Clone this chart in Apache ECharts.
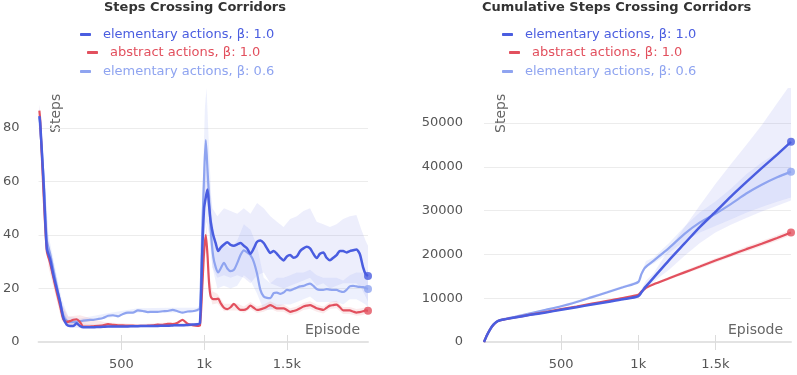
<!DOCTYPE html>
<html>
<head>
<meta charset="utf-8">
<script src="https://cdn.jsdelivr.net/npm/echarts@6/dist/echarts.min.js"></script>
<title>Steps Crossing Corridors</title>
<style>
  body { margin: 0; background: #fff; }
  .box { position: absolute; top: 0; height: 375px; }
</style>
</head>
<body>
<div id="left" class="box" style="left:0;width:399px;"></div>
<div id="right" class="box" style="left:399px;width:398px;"></div>
<script>
// series names
var NAME_E10 = 'elementary actions, β: 1.0';
var NAME_A10 = 'abstract actions, β: 1.0';
var NAME_E06 = 'elementary actions, β: 0.6';

// ---- left chart: steps per episode (smoothed mean) ----
var epSteps = [5, 10, 30, 50, 70, 90, 110, 130, 150, 170,
  190, 210, 230, 250, 270, 300, 330, 360, 390, 420,
  450, 480, 510, 540, 570, 600, 630, 660, 690, 720,
  750, 780, 810, 840, 870, 900, 930, 960, 975, 990,
  1000, 1010, 1020, 1030, 1040, 1055, 1070, 1085, 1100, 1120,
  1140, 1160, 1180, 1200, 1220, 1240, 1260, 1280, 1300, 1320,
  1340, 1360, 1380, 1400, 1420, 1440, 1460, 1480, 1500, 1520,
  1540, 1560, 1580, 1600, 1620, 1640, 1660, 1680, 1700, 1720,
  1740, 1760, 1780, 1800, 1820, 1840, 1860, 1880, 1900, 1920,
  1940, 1960, 1975, 1990];
var stepsE10 = [84.5, 82, 60, 35, 31, 25, 20, 15, 9, 6.5,
  6, 6, 7, 6, 5.5, 5.5, 5.5, 5.6, 5.7, 5.8,
  5.8, 5.8, 5.8, 5.8, 5.9, 5.9, 6, 6, 6, 6,
  6.1, 6.1, 6.2, 6.3, 6.3, 6.4, 6.5, 6.6, 7, 36,
  50, 54, 57, 51, 45, 40, 37, 34, 35.3, 36.5,
  37.3, 36.3, 36, 36.5, 37, 36, 35, 33, 35, 37.5,
  38, 37, 35, 33.3, 34, 33, 31.5, 30.5, 32, 32.5,
  31.5, 32, 34, 35, 35.6, 35, 33, 31.4, 33, 33.5,
  31.5, 30.6, 31.5, 32.5, 34, 34, 33.5, 34, 34.3, 34.6,
  33, 28, 25.5, 24.7];
var stepsA10 = [86.5, 83, 56, 34, 29.5, 24, 18.5, 13.5, 8.5, 7.5,
  7.8, 8.3, 8.5, 7.5, 5.8, 5.8, 5.9, 6, 6.2, 6.7,
  6.4, 6.2, 6.2, 6.1, 6.1, 6, 6, 6.1, 6.2, 6.5,
  6.4, 6.8, 6.7, 7.2, 8.3, 6.8, 6.3, 6, 6.2, 22,
  34, 40, 33, 22, 17, 16, 16, 16.2, 14.5, 12.8,
  12.3, 13, 14.3, 13, 12, 12, 12.5, 13.6, 12.8, 12,
  12.2, 12.6, 13.2, 13.8, 13.2, 12.6, 12.6, 12.6, 12, 11.3,
  11.6, 12, 12.6, 13.3, 13.6, 13.8, 13.3, 12.6, 12.3, 12,
  12.8, 13.6, 13.8, 14, 13, 11.8, 11.8, 11.8, 11.4, 11,
  11.2, 11.5, 11.8, 11.7];
var stepsE06 = [84, 80, 62, 38, 33, 27, 21, 15, 10, 8,
  7.5, 7.5, 7.6, 7.8, 8, 8.2, 8.3, 8.6, 9, 9.8,
  10, 9.6, 10.5, 11, 11, 11.8, 11.6, 11.2, 11.3, 11.3,
  11.5, 11.6, 12, 11.5, 11, 11.4, 11.5, 12, 12.6, 44,
  62, 75.5, 65, 54, 42, 32, 28, 26, 27.5, 29.6,
  27.5, 26.5, 27, 29.5, 32.5, 34.3, 33.5, 32.5, 30, 25.5,
  19.5, 17, 16.5, 16.4, 18.3, 18.5, 18, 18.5, 19.5, 19.3,
  19.8, 20.3, 20.8, 21, 21.5, 21.8, 21, 19.8, 19.5, 19.5,
  19.8, 19.6, 19.5, 19.5, 19, 18.7, 19.5, 20.8, 21, 20.8,
  20.6, 20.5, 20.2, 19.8];

// confidence bands (left chart)
var bandEpL = [5, 30, 60, 100, 140, 180, 250, 400, 600, 800,
  960, 975, 990, 1005, 1015, 1030, 1050, 1080, 1120, 1160,
  1200, 1240, 1280, 1320, 1360, 1400, 1440, 1480, 1520, 1560,
  1600, 1640, 1680, 1720, 1760, 1800, 1840, 1880, 1920, 1950,
  1975, 1990];
var bandE10Lo = [80, 54, 30, 20, 10, 5.5, 5.2, 5.2, 5.4, 5.6,
  6, 6, 28, 42, 45, 40, 28, 24, 25, 24,
  25, 24, 22, 25, 26, 22, 21, 20, 21, 22,
  23, 24, 21, 22, 20, 21, 22, 22, 22, 20,
  17, 15];
var bandE10Hi = [89, 66, 38, 26, 15, 7.5, 7, 6.3, 6.4, 6.6,
  7.2, 8.5, 42, 64, 66, 60, 50, 47, 50, 49,
  48, 50, 48, 52, 50, 47, 45, 43, 46, 47,
  49, 50, 45, 44, 43, 44, 46, 47, 47.5, 42,
  38, 36];
var bandA10Lo = [84, 52, 28, 18, 8, 6, 6, 5.6, 5.5, 6,
  5.6, 5.8, 18, 31, 35, 19, 14, 14.5, 11.5, 11.8,
  11.8, 10.8, 12.3, 10.8, 11.3, 12.4, 11.3, 11.3, 10, 10.7,
  12, 12.4, 11.3, 10.7, 12.3, 12.6, 10.5, 10.5, 9.8, 10,
  10.5, 10.4];
var bandA10Hi = [89, 60, 35, 25, 14, 9.5, 10, 7.4, 6.6, 7.4,
  6.6, 7, 26, 38, 44, 26, 19, 18, 14.3, 14.3,
  14.4, 13.3, 15, 13.3, 14, 15.2, 14, 14, 12.6, 13.3,
  14.6, 15.2, 14, 13.3, 15, 15.4, 13.1, 13.1, 12.3, 12.6,
  13, 13];
var bandE06Lo = [80, 56, 31, 20, 11, 6.5, 7, 8.8, 11, 11,
  11.2, 11.5, 35, 55, 60, 45, 28, 20, 21, 20,
  21, 25, 23, 18, 12, 12, 13, 14, 14, 15,
  16, 17, 15, 15, 15, 15, 14, 16, 16, 15,
  14, 13];
var bandE06Hi = [88, 68, 40, 28, 16, 9.5, 8.8, 10.6, 12.6, 12.8,
  12.8, 14, 55, 88, 95, 72, 45, 35, 37, 35,
  38, 44, 42, 36, 24, 22, 24, 24, 25, 26,
  26, 27, 25, 24, 24, 24, 23, 25, 26, 26,
  26, 27];

// ---- right chart: cumulative steps ----
var epCum = [0, 20, 40, 60, 80, 100, 130, 160, 200, 300,
  400, 500, 600, 700, 800, 900, 1000, 1020, 1040, 1060,
  1100, 1200, 1300, 1400, 1500, 1600, 1700, 1800, 1900, 1990];
var cumE10 = [0, 1600, 2900, 3900, 4550, 4900, 5150, 5350, 5600, 6200,
  6750, 7350, 7950, 8550, 9150, 9750, 10450, 11300, 12300, 13100,
  14700, 18700, 22500, 26300, 29700, 33200, 36500, 39700, 42800, 45700];
var cumA10 = [0, 1600, 2900, 3900, 4550, 4900, 5150, 5350, 5600, 6250,
  6850, 7500, 8100, 8750, 9400, 10050, 10800, 11500, 12100, 12550,
  13200, 14550, 15900, 17250, 18600, 19900, 21200, 22450, 23750, 25000];
var cumE06 = [0, 1650, 2950, 3950, 4600, 4950, 5250, 5450, 5750, 6550,
  7350, 8150, 9150, 10250, 11350, 12500, 13700, 15500, 16800, 17500,
  18600, 21500, 24700, 27300, 29300, 31500, 33900, 35900, 37600, 38900];

var bandEpR = [0, 20, 40, 60, 80, 100, 130, 160, 200, 500,
  800, 1000, 1050, 1100, 1200, 1300, 1400, 1500, 1600, 1700,
  1800, 1900, 1990];
var cumBandE10Lo = [0, 1500, 2750, 3750, 4400, 4750, 5000, 5200, 5450, 7150,
  8950, 10250, 12000, 13800, 16500, 19700, 22600, 25000, 26800, 28300,
  29800, 31100, 32300];
var cumBandE10Hi = [0, 1700, 3050, 4050, 4700, 5050, 5300, 5500, 5750, 7550,
  9350, 10650, 14000, 15700, 21300, 26200, 31200, 36100, 40600, 45000,
  49500, 54500, 59000];
var cumBandA10Lo = [0, 1500, 2750, 3750, 4400, 4750, 5000, 5200, 5450, 7350,
  9200, 10550, 12300, 12900, 14200, 15500, 16800, 18100, 19400, 20600,
  21850, 23100, 24350];
var cumBandA10Hi = [0, 1700, 3050, 4050, 4700, 5050, 5300, 5500, 5750, 7650,
  9600, 11050, 12900, 13500, 14900, 16300, 17700, 19100, 20400, 21800,
  23050, 24400, 25650];
var cumBandE06Lo = [0, 1550, 2800, 3800, 4450, 4800, 5100, 5300, 5600, 7900,
  11000, 13400, 17000, 17900, 20400, 23000, 25000, 26500, 28000, 29500,
  30800, 32000, 33000];
var cumBandE06Hi = [0, 1750, 3100, 4100, 4750, 5100, 5400, 5600, 5900, 8400,
  11700, 14000, 18500, 19300, 22600, 26400, 29600, 32100, 35000, 38300,
  41000, 43200, 44800];

var xTicks = [500, 1000, 1500];

// colours
var C_E10 = '#4a5de0';
var C_A10 = '#e2505e';
var C_E06 = '#8fa4f0';
var FONT = 'DejaVu Sans';

function pairs(xs, ys) {
  return xs.map(function (x, i) { return [x, ys[i]]; });
}

// band drawn as one polygon through the axis scales
function band(xs, lo, hi, fill) {
  return {
    type: 'custom',
    silent: true,
    clip: true,
    z: 1,
    data: xs.map(function (x, i) { return [x, lo[i], hi[i]]; }),
    encode: { x: 0, y: [1, 2] },
    renderItem: function (params, api) {
      if (params.dataIndex !== 0) return;
      var up = [], dn = [];
      for (var i = 0; i < xs.length; i++) {
        up.push(api.coord([xs[i], hi[i]]));
        dn.unshift(api.coord([xs[i], lo[i]]));
      }
      var cs = params.coordSys;
      return {
        type: 'polygon',
        shape: { points: up.concat(dn) },
        style: { fill: fill },
        clipPath: { type: 'rect', shape: { x: cs.x, y: cs.y, width: cs.width, height: cs.height } }
      };
    }
  };
}

function line(name, xs, ys, color, width) {
  return {
    name: name, type: 'line', z: 2,
    data: pairs(xs, ys),
    color: color,
    showSymbol: false, smooth: 0.25,
    lineStyle: { width: width, color: color },
    emphasis: { disabled: true }
  };
}

function endDot(xs, ys, color) {
  var n = xs.length - 1;
  return {
    type: 'scatter', z: 3, silent: true,
    data: [[xs[n], ys[n]]],
    symbolSize: 8,
    itemStyle: { color: color }
  };
}

function legendRow(name, color, left, top) {
  return {
    data: [name], left: left, top: top, padding: 0,
    selectedMode: false,
    icon: 'roundRect', itemWidth: 11, itemHeight: 3,
    textStyle: { color: color, fontSize: 13, fontFamily: FONT, padding: [0, 0, 0, 7] }
  };
}

function buildOption(cfg) {
  return {
    animation: false,
    textStyle: { fontFamily: FONT },
    title: {
      text: cfg.title, left: cfg.titleLeft, top: 1, padding: 0,
      textStyle: { fontSize: 13, fontWeight: 'bold', color: '#333', fontFamily: FONT }
    },
    legend: [
      legendRow(NAME_E10, C_E10, cfg.legLeft, 28),
      legendRow(NAME_A10, C_A10, cfg.legLeft + 7, 46),
      legendRow(NAME_E06, C_E06, cfg.legLeft, 65)
    ],
    grid: { left: cfg.gridLeft, right: cfg.gridRight, top: 88, bottom: 33 },
    xAxis: [{
      type: 'value', min: 0, max: 1990,
      axisLine: { lineStyle: { color: '#e3e3e3', width: 2 } },
      axisTick: { customValues: xTicks, length: 8, lineStyle: { color: '#dcdcdc', width: 1 } },
      axisLabel: {
        customValues: xTicks, color: '#555', fontSize: 13, margin: 16,
        formatter: function (v) { return v >= 1000 ? (v / 1000) + 'k' : String(v); }
      },
      splitLine: { show: false }
    }, {
      // upward half of the crossing ticks
      type: 'value', min: 0, max: 1990, position: 'top', offset: -254,
      axisLine: { show: false },
      axisTick: { customValues: xTicks, length: 7, lineStyle: { color: '#dcdcdc', width: 1 } },
      axisLabel: { show: false },
      splitLine: { show: false }
    }],
    yAxis: {
      type: 'value', min: 0, max: cfg.yMax, interval: cfg.yStep,
      axisLine: { show: false }, axisTick: { show: false },
      axisLabel: {
        color: '#555', fontSize: 13, margin: cfg.labelMargin, showMaxLabel: false,
        formatter: function (v) { return String(v); }
      },
      splitLine: { lineStyle: { color: '#ececec' }, showMaxLine: false, showMinLine: false }
    },
    graphic: [
      { type: 'text', x: cfg.stepsX, y: 133, rotation: Math.PI / 2,
        style: { text: 'Steps', fill: '#666', font: '14px "DejaVu Sans"', textAlign: 'left', textVerticalAlign: 'middle' } },
      { type: 'text', x: cfg.episodeX, y: 330,
        style: { text: 'Episode', fill: '#666', font: '14px "DejaVu Sans"', textAlign: 'right', textVerticalAlign: 'middle' } }
    ],
    series: cfg.series
  };
}

// left chart
var leftChart = echarts.init(document.getElementById('left'));
leftChart.setOption(buildOption({
  title: 'Steps Crossing Corridors', titleLeft: 104, legLeft: 80,
  gridLeft: 38, gridRight: 31, yMax: 95, yStep: 20, labelMargin: 19,
  stepsX: 56, episodeX: 360,
  series: [
    band(bandEpL, bandE10Lo, bandE10Hi, 'rgba(74,93,224,0.10)'),
    band(bandEpL, bandE06Lo, bandE06Hi, 'rgba(143,164,240,0.16)'),
    band(bandEpL, bandA10Lo, bandA10Hi, 'rgba(226,80,94,0.12)'),
    line(NAME_E06, epSteps, stepsE06, C_E06, 2.2),
    line(NAME_A10, epSteps, stepsA10, C_A10, 2.2),
    line(NAME_E10, epSteps, stepsE10, C_E10, 2.5),
    endDot(epSteps, stepsE06, C_E06),
    endDot(epSteps, stepsA10, C_A10),
    endDot(epSteps, stepsE10, C_E10)
  ]
}));

// right chart
var rightChart = echarts.init(document.getElementById('right'));
rightChart.setOption(buildOption({
  title: 'Cumulative Steps Crossing Corridors', titleLeft: 83, legLeft: 103,
  gridLeft: 85, gridRight: 6, yMax: 58000, yStep: 10000, labelMargin: 21,
  stepsX: 102, episodeX: 384,
  series: [
    band(bandEpR, cumBandE10Lo, cumBandE10Hi, 'rgba(74,93,224,0.10)'),
    band(bandEpR, cumBandE06Lo, cumBandE06Hi, 'rgba(143,164,240,0.16)'),
    band(bandEpR, cumBandA10Lo, cumBandA10Hi, 'rgba(226,80,94,0.12)'),
    line(NAME_E06, epCum, cumE06, C_E06, 2.2),
    line(NAME_A10, epCum, cumA10, C_A10, 2.2),
    line(NAME_E10, epCum, cumE10, C_E10, 2.5),
    endDot(epCum, cumE06, C_E06),
    endDot(epCum, cumA10, C_A10),
    endDot(epCum, cumE10, C_E10)
  ]
}));
</script>
</body>
</html>
